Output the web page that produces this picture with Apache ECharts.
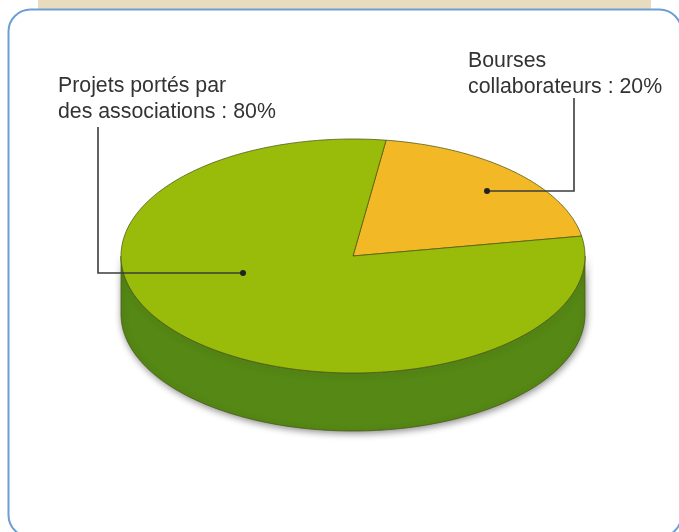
<!DOCTYPE html>
<html>
<head>
<meta charset="utf-8">
<style>
  html, body { margin: 0; padding: 0; background: #fff; }
  #chart { width: 679px; height: 532px; }
</style>
</head>
<body>
<div id="chart"></div>
<script src="https://cdn.jsdelivr.net/npm/echarts@6/dist/echarts.min.js"></script>
<script>
const categories = ["Bourses\ncollaborateurs", "Projets portés par\ndes associations"];
const shares = [20, 80];
const sliceColors = ["#F3B825", "#99BC0B"];

// the pie is a flattened disc, the library's pie can't do that
const startAngle = 8.2;
const cx = 353;
const cy = 256;
const rx = 232;
const ry = 117;
const depth = 58;
const wallColor = "#558815";
const edgeColor = "rgba(75,85,20,0.75)";

const labelBoxes = [
  { x: 468, y: 48, leader: [[574, 98], [574, 191], [487, 191]] },
  { x: 58, y: 73, leader: [[98, 127], [98, 273], [243, 273]] },
];

const total = shares.reduce((a, b) => a + b, 0);

const rimPoint = (deg, offset) => {
  const t = (deg * Math.PI) / 180;
  return [cx + rx * Math.sin(t), cy + offset - ry * Math.cos(t)];
};

const arcPoints = (from, to, offset) => {
  const pts = [];
  const steps = Math.max(2, Math.ceil(to - from));
  for (let i = 0; i <= steps; i++) {
    pts.push(rimPoint(from + ((to - from) * i) / steps, offset));
  }
  return pts;
};

const sliceRange = (index) => {
  let from = startAngle;
  for (let i = 0; i < index; i++) from += (shares[i] / total) * 360;
  return [from, from + (shares[index] / total) * 360];
};

const renderWall = (params, api) => {
  const [from, to] = sliceRange(api.value(0));
  const a = Math.max(from, 90);
  const b = Math.min(to, 270);
  if (a >= b) return { type: "group", children: [] };
  const points = arcPoints(a, b, 0).concat(arcPoints(a, b, depth).reverse());
  return {
    type: "polygon",
    shape: { points },
    style: {
      fill: wallColor,
      stroke: edgeColor,
      lineWidth: 1,
      shadowBlur: 7,
      shadowColor: "rgba(0,0,0,0.45)",
      shadowOffsetX: 1,
      shadowOffsetY: 2,
    },
  };
};

const renderSlice = (params, api) => {
  const index = api.value(0);
  const [from, to] = sliceRange(index);
  return {
    type: "polygon",
    shape: { points: [[cx, cy]].concat(arcPoints(from, to, 0)) },
    style: { fill: sliceColors[index], stroke: edgeColor, lineWidth: 1 },
  };
};

const renderLabel = (params, api) => {
  const index = api.value(0);
  const box = labelBoxes[index];
  const dot = box.leader[box.leader.length - 1];
  return {
    type: "group",
    children: [
      {
        type: "polyline",
        shape: { points: box.leader },
        style: { fill: "none", stroke: "#3c3c3c", lineWidth: 1.6 },
      },
      {
        type: "circle",
        shape: { cx: dot[0], cy: dot[1], r: 3 },
        style: { fill: "#222" },
      },
      {
        type: "text",
        x: box.x,
        y: box.y,
        style: {
          text: `${categories[index]} : ${shares[index]}%`,
          fill: "#333",
          fontFamily: "Liberation Sans",
          fontSize: 21.3,
          lineHeight: 26,
          align: "left",
          verticalAlign: "top",
        },
      },
    ],
  };
};

const itemIndexes = shares.map((v, i) => [i, v]);

const chart = echarts.init(document.getElementById("chart"), null, { renderer: "canvas" });

chart.setOption({
  animation: false,
  backgroundColor: "#fff",
  graphic: [
    {
      type: "rect",
      z: 0,
      shape: { x: 38, y: 0, width: 613, height: 9 },
      style: { fill: "#E9DBBD" },
    },
    {
      type: "rect",
      z: 1,
      shape: { x: 8.5, y: 9.5, width: 673, height: 527.5, r: 22 },
      style: { fill: "#fff", stroke: "#6C9FD3", lineWidth: 2 },
    },
  ],
  series: [
    { type: "custom", coordinateSystem: "none", z: 3, renderItem: renderWall, data: itemIndexes, silent: true },
    { type: "custom", coordinateSystem: "none", z: 4, renderItem: renderSlice, data: itemIndexes, silent: true },
    { type: "custom", coordinateSystem: "none", z: 5, renderItem: renderLabel, data: itemIndexes, silent: true },
  ],
});
</script>
</body>
</html>
